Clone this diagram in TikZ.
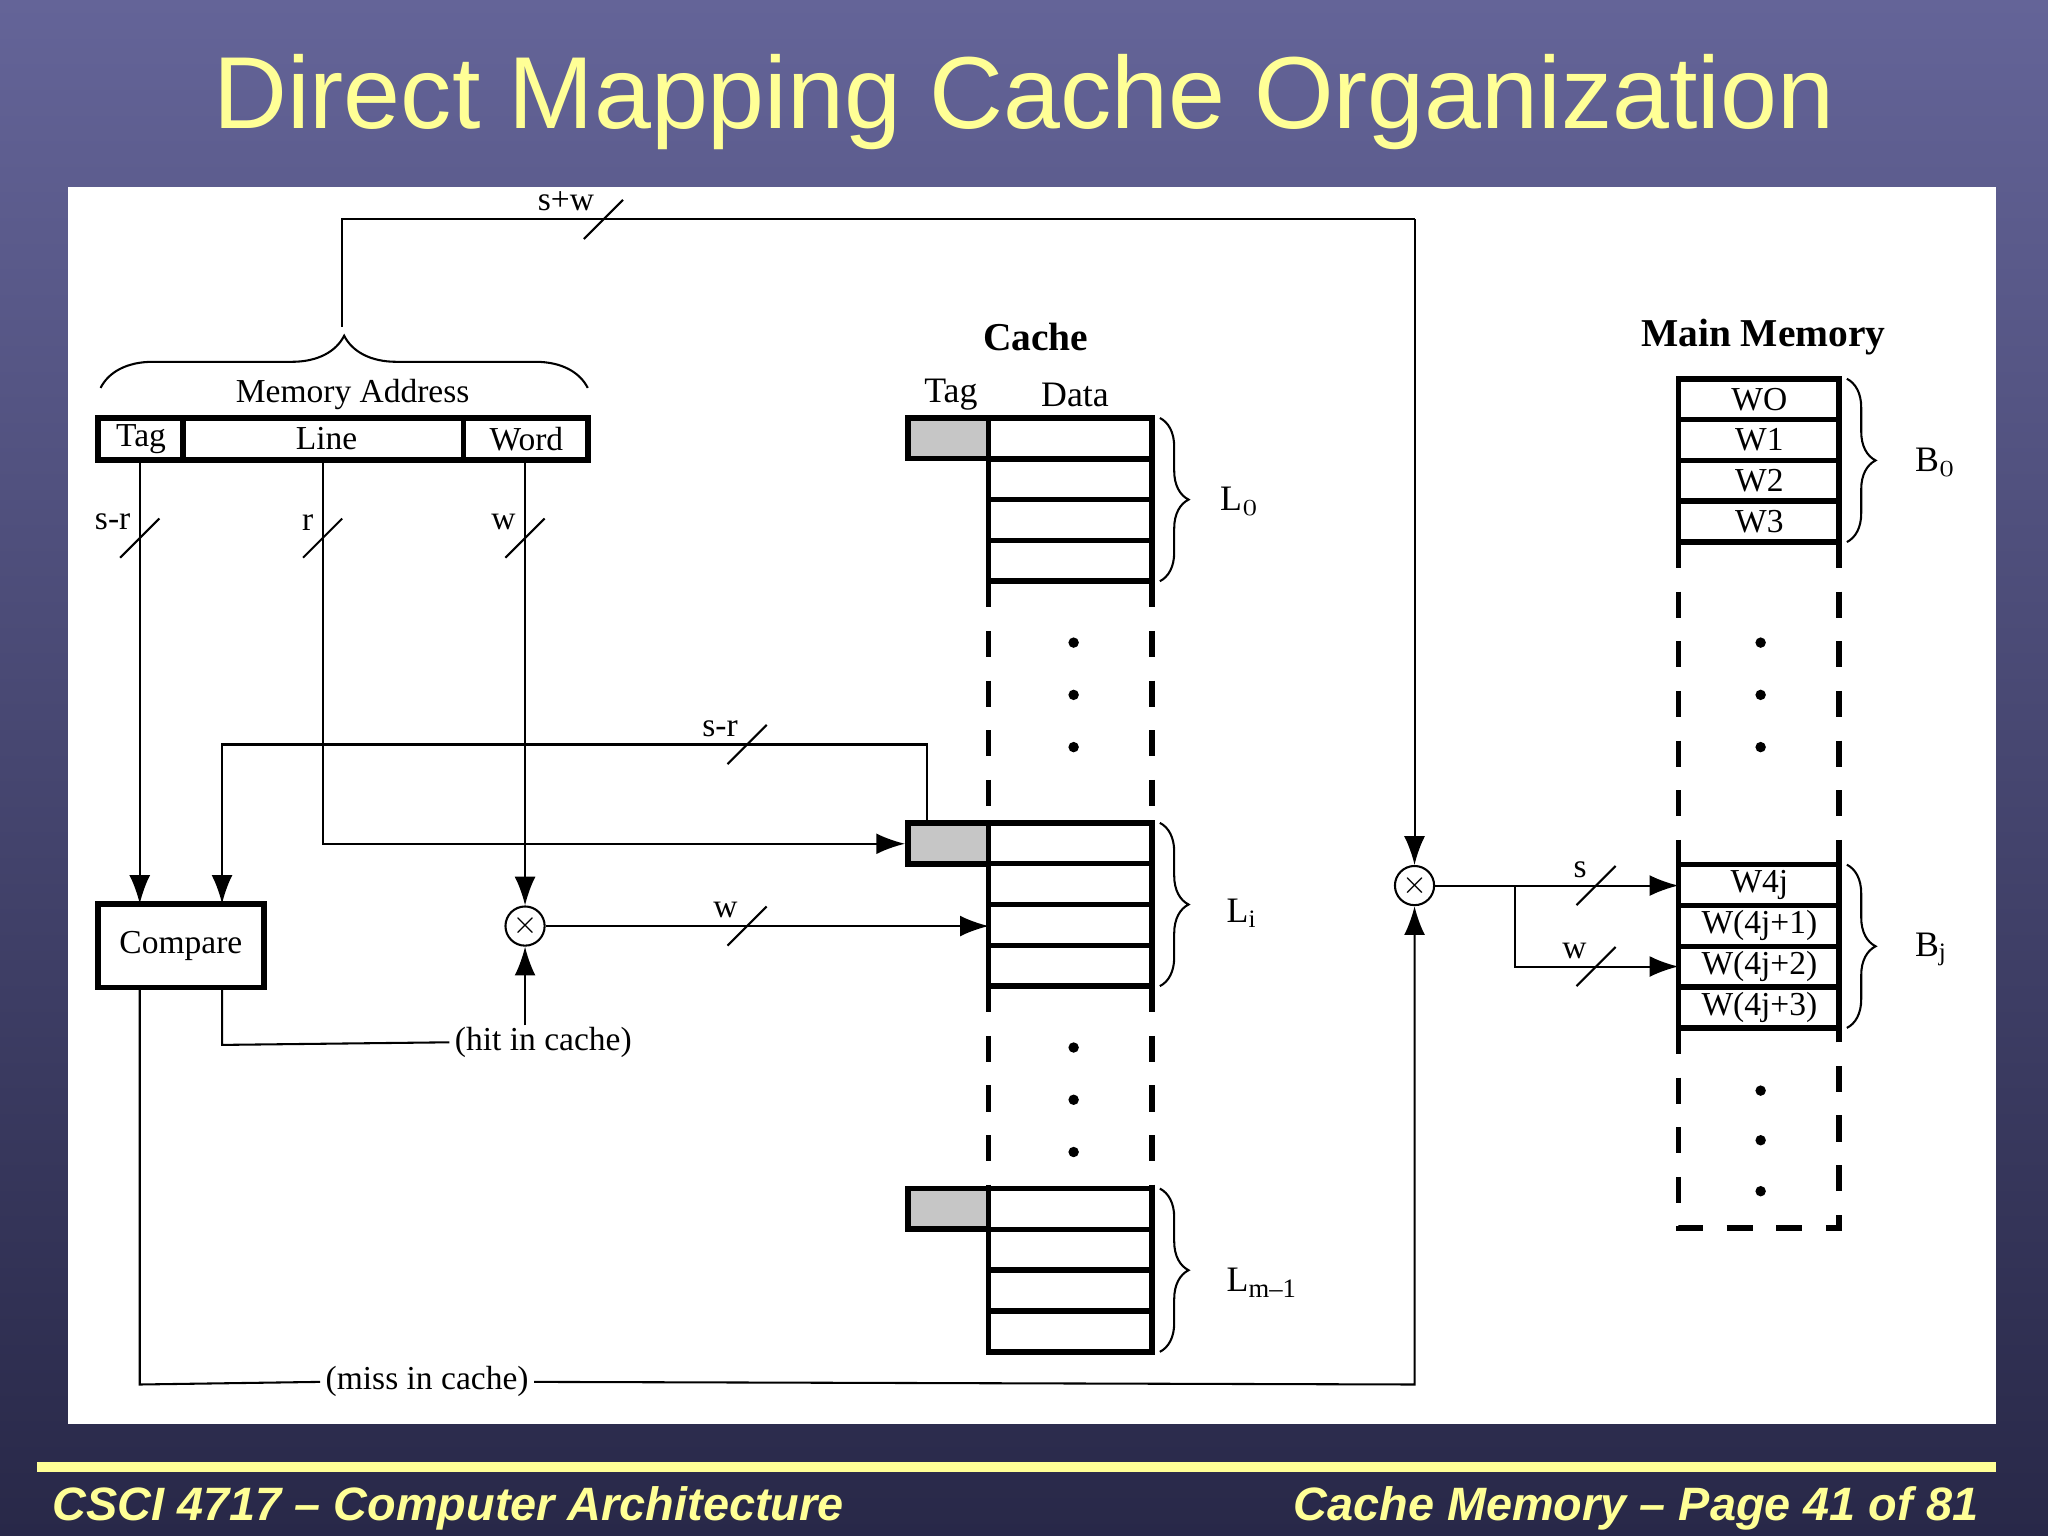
\documentclass[tikz,border=0pt]{standalone}
\usepackage{fontspec}
\setmainfont{Liberation Serif}
\newfontfamily\arialf{Liberation Sans}
\usetikzlibrary{arrows.meta,decorations.pathreplacing}
\definecolor{ttl}{RGB}{255,255,150}
\tikzset{
 thin/.style={line width=0.45pt},
 thk/.style={line width=1.2pt},
 arr/.style={thin,-{Latex[length=2.2mm,width=1.6mm]}},
 lbl/.style={font=\fontsize{7.3}{8.5}\selectfont,inner sep=1pt},
 slashm/.style={thin},
 brc/.style={thin,decorate,decoration={brace,amplitude=2.2mm}},
 xor/.style={circle,draw,thin,minimum size=3mm,inner sep=0pt},
 dsh/.style={thk,dash pattern=on 2mm off 1.8mm},
}
\newcommand{\slsh}[3]{\draw[slashm] (#1-15,#2+15) -- (#1+15,#2-15); \node[lbl,anchor=south east] at (#1-3,#2-2) {#3};}
\begin{document}
\begin{tikzpicture}[x=0.1mm,y=-0.1mm]
\useasboundingbox (0,0) rectangle (1568,1176);
\shade[top color={rgb,255:red,100;green,100;blue,152},bottom color={rgb,255:red,40;green,40;blue,72}] (0,0) rectangle (1568,1176);
\node[text=ttl,font=\arialf\fontsize{22.3}{25}\selectfont] (title) at (784,78) {Direct Mapping Cache Organization};
\fill[white] (52,143) rectangle (1528,1090);
\fill[ttl] (28,1119) rectangle (1528,1127);
\node[text=ttl,font=\arialf\bfseries\itshape\fontsize{10.2}{12}\selectfont,anchor=west] (fl) at (28,1155) {CSCI 4717 – Computer Architecture};
\node[text=ttl,font=\arialf\bfseries\itshape\fontsize{10.2}{12}\selectfont,anchor=east] (fr) at (1527,1155) {Cache Memory – Page 41 of 81};

% address register
\draw[thk] (75,320) rectangle (450,352);
\draw[thk] (140,320)--(140,352) (355,320)--(355,352);
\node[lbl] (atag) at (108,336) {Tag};
\node[lbl] (aline) at (250,336) {Line};
\node[lbl] (aword) at (403,336) {Word};
\node[lbl] (maddr) at (270,302) {Memory Address};
\draw[thin,decorate,decoration={brace,amplitude=4mm}] (77,297)--(450,297);
\coordinate (btip) at (262,250);

% top loop
\node[xor] (x2) at (1083,678) {};
\node[font=\fontsize{6}{6}\selectfont] at (x2) {$\times$};
\draw[thin] (btip)--(262,168)--(1083,168);
\draw[arr] (1083,168)--(x2.north);
\slsh{462}{168}{s+w}

% left lines
\node[draw,thk,minimum width=12.7mm,minimum height=6.4mm,font=\fontsize{7.3}{8.5}\selectfont] (cmp) at (138.5,724) {Compare};
\draw[arr] (107,352)--(107,692);
\slsh{107}{412}{s-r}
\node[draw,thk,fill=gray!45,minimum width=6.2mm,minimum height=3.2mm,inner sep=0] (tagi) at (726,646) {};
\draw[arr] (247,352)--(247,646)--(tagi.west);
\slsh{247}{412}{r}
\node[xor] (x1) at (402,709) {};
\node[font=\fontsize{6}{6}\selectfont] at (x1) {$\times$};
\draw[arr] (402,352)--(x1.north);
\slsh{402}{412}{w}
\draw[arr] (710,630)--(710,570)--(170,570)--(170,692);
\slsh{572}{570}{s-r}
\draw[arr] (x1.east)--(757,709);
\slsh{572}{709}{w}
\node[lbl] (hit) at (416,798) {(hit in cache)};
\draw[thin] (170,756)--(170,800)--(hit.west);
\draw[arr] (402,785)--(x1.south);
\node[lbl] (miss) at (327,1058) {(miss in cache)};
\draw[thin] (107,756)--(107,1060)--(miss.west);
\draw[arr] (miss.east)--(1083,1060)--(x2.south);
\draw[arr] (x2.east)--(1285,678);
\slsh{1222}{678}{s}
\draw[arr] (1160,678)--(1160,740)--(1285,740);
\slsh{1222}{740}{w}

% cache
\node[font=\bfseries\fontsize{8.6}{10}\selectfont] (ctitle) at (793,258) {Cache};
\node[lbl,font=\fontsize{7.8}{9}\selectfont] (ctag) at (728,302) {Tag};
\node[lbl,font=\fontsize{7.8}{9}\selectfont] (cdata) at (823,302) {Data};
\foreach \y in {320,630,910}{
  \draw[thk] (757,\y) rectangle (882,\y+125);
  \foreach \k in {1,2,3} \draw[thk] (757,\y+\k*31.25)--(882,\y+\k*31.25);
  \draw[thk,fill=gray!45] (695,\y) rectangle (757,\y+31);
  \draw[brc] (888,\y)--(888,\y+125);
}
\draw[dsh] (757,445)--(757,630) (882,445)--(882,630) (757,755)--(757,910) (882,755)--(882,910);
\foreach \y in {492,532,572,802,842,882} \fill (822,\y) circle (4);
\node[lbl,font=\fontsize{7.8}{9}\selectfont,anchor=west] (L0) at (930,384) {L$_0$};
\node[lbl,font=\fontsize{7.8}{9}\selectfont,anchor=west] (Li) at (935,699) {L$_\mathrm{i}$};
\node[lbl,font=\fontsize{7.8}{9}\selectfont,anchor=west] (Lm) at (935,982) {L\raisebox{-0.4ex}{\fontsize{5.8}{6}\selectfont m–1}};

% main memory
\node[font=\bfseries\fontsize{8.6}{10}\selectfont] (mtitle) at (1350,258) {Main Memory};
\draw[thk] (1285,290) rectangle (1408,415);
\draw[thk] (1285,662) rectangle (1408,787);
\foreach \k in {1,2,3} {\draw[thk] (1285,290+\k*31.25)--(1408,290+\k*31.25); \draw[thk] (1285,662+\k*31.25)--(1408,662+\k*31.25);}
\foreach \t [count=\i from 0] in {WO,W1,W2,W3} \node[lbl] at (1347,305.6+\i*31.25) {\t};
\foreach \t [count=\i from 0] in {W4j,W(4j+1),W(4j+2),W(4j+3)} \node[lbl] at (1347,677.6+\i*31.25) {\t};
\draw[dsh] (1285,415)--(1285,662) (1408,415)--(1408,662) (1285,787)--(1285,940)--(1408,940)--(1408,787);
\foreach \y in {492,532,572,835,873,912} \fill (1348,\y) circle (4);
\draw[brc] (1414,290)--(1414,415);
\draw[brc] (1414,662)--(1414,787);
\node[lbl,font=\fontsize{7.8}{9}\selectfont,anchor=west] (B0) at (1462,354) {B$_0$};
\node[lbl,font=\fontsize{7.8}{9}\selectfont,anchor=west] (Bj) at (1462,727) {B$_\mathrm{j}$};
\end{tikzpicture}
\end{document}
